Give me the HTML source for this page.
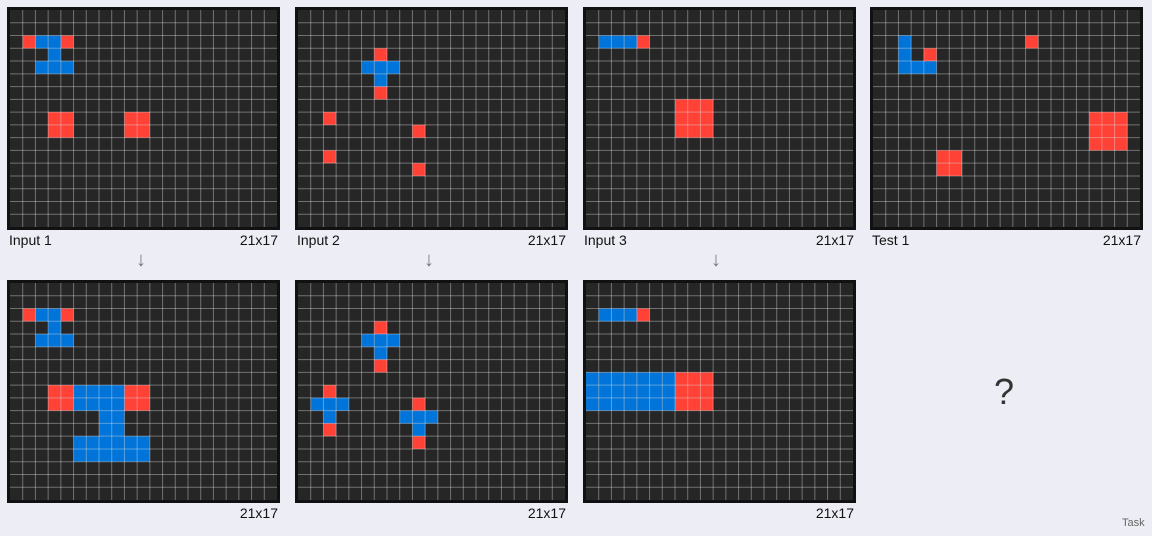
<!DOCTYPE html>
<html><head><meta charset="utf-8"><style>
body{margin:0;width:1152px;height:536px;background:#ededf5;font-family:"Liberation Sans",sans-serif;position:relative;overflow:hidden}
.lbl{position:absolute;font-size:14px;color:#111}
.sz{position:absolute;font-size:14px;color:#111;text-align:right}
.arrow{position:absolute;font-size:20px;color:#777}
</style></head><body>
<svg id="s" width="1152" height="536" style="position:absolute;left:0;top:0"></svg>
<div class="lbl" style="left:9px;top:232px">Input 1</div>
<div class="sz" style="right:874px;top:232px">21x17</div>
<div class="lbl" style="left:297px;top:232px">Input 2</div>
<div class="sz" style="right:586px;top:232px">21x17</div>
<div class="lbl" style="left:584px;top:232px">Input 3</div>
<div class="sz" style="right:298px;top:232px">21x17</div>
<div class="lbl" style="left:872px;top:232px">Test 1</div>
<div class="sz" style="right:11px;top:232px">21x17</div>
<div class="sz" style="right:874px;top:505px">21x17</div>
<div class="sz" style="right:586px;top:505px">21x17</div>
<div class="sz" style="right:298px;top:505px">21x17</div>
<div class="arrow" style="left:136px;top:249px">↓</div>
<div class="arrow" style="left:424px;top:249px">↓</div>
<div class="arrow" style="left:711px;top:249px">↓</div>
<div style="position:absolute;left:994px;top:371px;font-size:36px;color:#333">?</div>
<div style="position:absolute;left:1122px;top:517px;font-size:11px;color:#666">Task</div>
<script>
const panelNames=['input-1','input-2','input-3','test-1','output-1','output-2','output-3'];
const panelX=[7,295,583,870,7,295,583];
const panelY=[7,7,7,7,280,280,280];
// cells as [row,col,color] with 'r' red, 'b' blue
const cells1=[[2,1,'r'],[2,2,'b'],[2,3,'b'],[2,4,'r'],[3,3,'b'],[4,2,'b'],[4,3,'b'],[4,4,'b'],[8,3,'r'],[8,4,'r'],[9,3,'r'],[9,4,'r'],[8,9,'r'],[8,10,'r'],[9,9,'r'],[9,10,'r']];
const cells2=[[3,6,'r'],[4,5,'b'],[4,6,'b'],[4,7,'b'],[5,6,'b'],[6,6,'r'],[8,2,'r'],[9,9,'r'],[11,2,'r'],[12,9,'r']];
const cells3=[[2,1,'b'],[2,2,'b'],[2,3,'b'],[2,4,'r'],[7,7,'r'],[7,8,'r'],[7,9,'r'],[8,7,'r'],[8,8,'r'],[8,9,'r'],[9,7,'r'],[9,8,'r'],[9,9,'r']];
const cellsT=[[2,2,'b'],[3,2,'b'],[4,2,'b'],[4,3,'b'],[4,4,'b'],[3,4,'r'],[2,12,'r'],[8,17,'r'],[8,18,'r'],[8,19,'r'],[9,17,'r'],[9,18,'r'],[9,19,'r'],[10,17,'r'],[10,18,'r'],[10,19,'r'],[11,5,'r'],[11,6,'r'],[12,5,'r'],[12,6,'r']];
const cellsO1=cells1.filter(c=>c[0]<8).concat([[8,3,'r'],[8,4,'r'],[9,3,'r'],[9,4,'r'],[8,9,'r'],[8,10,'r'],[9,9,'r'],[9,10,'r'],[8,5,'b'],[8,6,'b'],[8,7,'b'],[8,8,'b'],[9,5,'b'],[9,6,'b'],[9,7,'b'],[9,8,'b'],[10,7,'b'],[10,8,'b'],[11,7,'b'],[11,8,'b'],[12,5,'b'],[12,6,'b'],[12,7,'b'],[12,8,'b'],[12,9,'b'],[12,10,'b'],[13,5,'b'],[13,6,'b'],[13,7,'b'],[13,8,'b'],[13,9,'b'],[13,10,'b']]);
const cellsO2=[[3,6,'r'],[4,5,'b'],[4,6,'b'],[4,7,'b'],[5,6,'b'],[6,6,'r'],[8,2,'r'],[9,1,'b'],[9,2,'b'],[9,3,'b'],[10,2,'b'],[11,2,'r'],[9,9,'r'],[10,8,'b'],[10,9,'b'],[10,10,'b'],[11,9,'b'],[12,9,'r']];
const cellsO3=[[2,1,'b'],[2,2,'b'],[2,3,'b'],[2,4,'r']];
for(let r=7;r<=9;r++){for(let c=0;c<=6;c++)cellsO3.push([r,c,'b']);for(let c=7;c<=9;c++)cellsO3.push([r,c,'r']);}
const panelCells=[cells1,cells2,cells3,cellsT,cellsO1,cellsO2,cellsO3];
const COLS=21,ROWS=17,W=273,H=223,B=3;
const cw=(W-2*B)/COLS,ch=(H-2*B)/ROWS;
const NS='http://www.w3.org/2000/svg';
const svg=document.getElementById('s');
const colorMap={r:'#ff4136',b:'#0074d9'};
function mk(t,a){const e=document.createElementNS(NS,t);for(const k in a)e.setAttribute(k,a[k]);svg.appendChild(e);return e;}
panelNames.forEach((name,i)=>{
  const x0=panelX[i],y0=panelY[i];
  const bg=mk('rect',{x:x0,y:y0,width:W,height:H,fill:'#111'});
  
  
  mk('rect',{x:x0+B,y:y0+B,width:W-2*B,height:H-2*B,fill:'#262626'});
  panelCells[i].forEach(c=>{
    const e=mk('rect',{x:x0+B+c[1]*cw,y:y0+B+c[0]*ch,width:cw,height:ch,fill:colorMap[c[2]]});
    
    
  });
  for(let k=1;k<COLS;k++){const x=x0+B+k*cw;mk('line',{x1:x,x2:x,y1:y0+B,y2:y0+H-B,stroke:'rgba(255,255,255,0.35)','stroke-width':1});}
  for(let k=1;k<ROWS;k++){const y=y0+B+k*ch;mk('line',{x1:x0+B,x2:x0+W-B,y1:y,y2:y,stroke:'rgba(255,255,255,0.35)','stroke-width':1});}
});
</script>
</body></html>
